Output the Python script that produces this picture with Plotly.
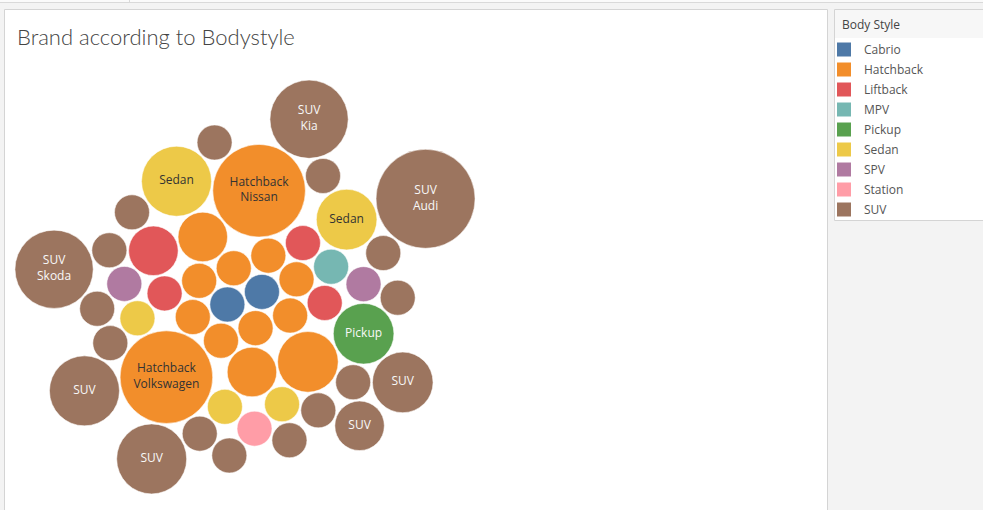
import math
import plotly.graph_objects as go

# ---------------- data ----------------
style_order = ["Cabrio", "Hatchback", "Liftback", "MPV", "Pickup",
               "Sedan", "SPV", "Station", "SUV"]
style_colors = ["#4e79a7", "#f28e2b", "#e15759", "#76b7b2", "#59a14f",
                "#edc948", "#b07aa1", "#ff9da7", "#9c755f"]

cabrio_brands = ["Smart", "Tesla"]
cabrio_counts = [1, 1]
hatchback_brands = ["BMW", "CUPRA", "Fiat", "Honda", "Hyundai", "Mini", "Nissan",
                    "Opel", "Peugeot", "Renault", "SEAT", "Smart", "Volkswagen"]
hatchback_counts = [2, 1, 1, 2, 1, 1, 7, 1, 1, 3, 1, 1, 7]
liftback_brands = ["Hyundai", "Lightyear", "Polestar", "Tesla"]
liftback_counts = [1, 1, 2, 1]
mpv_brands = ["Nissan"]
mpv_counts = [1]
pickup_brands = ["Tesla"]
pickup_counts = [3]
sedan_brands = ["BMW", "Lucid", "Mercedes", "Porsche", "Tesla"]
sedan_counts = [1, 1, 1, 3, 4]
spv_brands = ["Mercedes", "Opel"]
spv_counts = [1, 1]
station_brands = ["MG"]
station_counts = [1]
suv_brands = ["Aiways", "Audi", "BMW", "Byton", "DS", "Fisker", "Ford", "Hyundai",
              "JAC", "Jaguar", "Kia", "Lexus", "Mazda", "Mercedes", "MG", "Nissan",
              "Skoda", "Tesla", "Volkswagen", "Volvo"]
suv_counts = [1, 8, 1, 1, 1, 1, 4, 2, 1, 1, 5, 1, 1, 1, 1, 1, 5, 4, 3, 1]

brands_by_style = [cabrio_brands, hatchback_brands, liftback_brands, mpv_brands,
                   pickup_brands, sedan_brands, spv_brands, station_brands, suv_brands]
counts_by_style = [cabrio_counts, hatchback_counts, liftback_counts, mpv_counts,
                   pickup_counts, sedan_counts, spv_counts, station_counts, suv_counts]

# ---------------- packed-bubble layout (computed) ----------------
W, H = 983, 510
UNIT_R = 17.5      # px radius for a count of 1 (bubble area ~ count)
GAP = 1.8
ROTATE_DEG = -20   # orientation of the packed cluster
CX, CY = 245, 287  # centre of the cluster inside the chart panel

styles, brands, counts = [], [], []
for s, bl, cl in zip(style_order, brands_by_style, counts_by_style):
    # marks ordered by body style, then by size within a style
    for b, c in sorted(zip(bl, cl), key=lambda t: t[1]):
        styles.append(s)
        brands.append(b)
        counts.append(c)
radii = [UNIT_R * math.sqrt(c) for c in counts]


def pack(radii, gap):
    """Greedy packing: each circle goes to the free tangent spot closest to the centre."""
    pos = [(0.0, 0.0), (radii[0] + radii[1] + gap, 0.0)]
    ox, oy = pos[1][0] / 2, 0.0
    for i in range(2, len(radii)):
        r = radii[i]
        best = None
        for a in range(i):
            xa, ya = pos[a]
            ra = radii[a] + r + gap
            for b in range(a + 1, i):
                xb, yb = pos[b]
                rb = radii[b] + r + gap
                dx, dy = xb - xa, yb - ya
                d = math.hypot(dx, dy)
                if d == 0 or d > ra + rb or d < abs(ra - rb):
                    continue
                l = (ra * ra - rb * rb + d * d) / (2 * d)
                h = math.sqrt(max(ra * ra - l * l, 0.0))
                mx, my = xa + l * dx / d, ya + l * dy / d
                for sgn in (1, -1):
                    cx, cy = mx - sgn * h * dy / d, my + sgn * h * dx / d
                    dist = math.hypot(cx - ox, cy - oy)
                    if best is not None and dist >= best[0]:
                        continue
                    ok = True
                    for k in range(i):
                        if math.hypot(cx - pos[k][0], cy - pos[k][1]) < radii[k] + r + gap - 1e-6:
                            ok = False
                            break
                    if ok:
                        best = (dist, cx, cy)
        pos.append((best[1], best[2]))
    return pos


pos = pack(radii, GAP)
ca, sa = math.cos(math.radians(ROTATE_DEG)), math.sin(math.radians(ROTATE_DEG))
pos = [(x * ca - y * sa, x * sa + y * ca) for x, y in pos]
xmin = min(p[0] - r for p, r in zip(pos, radii))
xmax = max(p[0] + r for p, r in zip(pos, radii))
ymin = min(p[1] - r for p, r in zip(pos, radii))
ymax = max(p[1] + r for p, r in zip(pos, radii))
xs = [p[0] - (xmin + xmax) / 2 + CX for p in pos]
ys = [p[1] - (ymin + ymax) / 2 + CY for p in pos]


def lum(hexc):
    r, g, b = int(hexc[1:3], 16), int(hexc[3:5], 16), int(hexc[5:7], 16)
    return (0.2126 * r + 0.7152 * g + 0.0722 * b) / 255


def label(style, brand, count, r):
    lines = []
    if count >= 2 and len(style) * 6.6 <= 1.75 * r:
        lines.append(style)
        if count >= 5 and len(brand) * 6.6 <= 1.75 * r:
            lines.append(brand)
    return "<br>".join(lines)


fig = go.Figure()

for s, col in zip(style_order, style_colors):
    idx = [i for i in range(len(styles)) if styles[i] == s]
    tcol = "#f8f8f8" if lum(col) < 0.58 else "#333333"
    fig.add_trace(go.Scatter(
        x=[xs[i] for i in idx], y=[ys[i] for i in idx],
        mode="markers+text",
        marker=dict(size=[2 * radii[i] for i in idx], color=col, opacity=1,
                    line=dict(width=1, color="rgba(255,255,255,0.55)")),
        text=[label(s, brands[i], counts[i], radii[i]) for i in idx],
        textposition="middle center",
        textfont=dict(family="Open Sans", size=12, color=tcol),
        customdata=[[brands[i], counts[i]] for i in idx],
        hovertemplate="Body Style: " + s + "<br>Brand: %{customdata[0]}<br>Count: %{customdata[1]}<extra></extra>",
        showlegend=False, name=s,
    ))

# legend entries (square swatches)
for s, col in zip(style_order, style_colors):
    fig.add_trace(go.Scatter(
        x=[None], y=[None], mode="markers", name=s, legendgroup=s,
        marker=dict(symbol="square", size=14, color=col),
        hoverinfo="skip",
    ))

shapes = [
    # top strip
    dict(type="rect", x0=0, x1=W, y0=0, y1=2, fillcolor="#fafafa", line=dict(width=0)),
    dict(type="line", x0=0, x1=W, y0=2.5, y1=2.5, line=dict(color="#d9d9d9", width=1)),
    dict(type="line", x0=129.5, x1=129.5, y0=0, y1=2.5, line=dict(color="#d9d9d9", width=1)),
    # chart panel
    dict(type="rect", x0=4.5, x1=827.5, y0=9.5, y1=520, fillcolor="#ffffff",
         line=dict(color="#d4d4d4", width=1)),
    # legend panel
    dict(type="rect", x0=834.5, x1=990, y0=9.5, y1=220.5, fillcolor="#ffffff",
         line=dict(color="#d4d4d4", width=1)),
    dict(type="rect", x0=835, x1=990, y0=10, y1=38, fillcolor="#f7f7f7", line=dict(width=0)),
]
for sh in shapes:
    sh.update(xref="x", yref="y", layer="below")

fig.update_layout(
    width=W, height=H,
    margin=dict(l=0, r=0, t=0, b=0),
    paper_bgcolor="#f3f3f3", plot_bgcolor="rgba(0,0,0,0)",
    xaxis=dict(range=[0, W], visible=False, fixedrange=True),
    yaxis=dict(range=[H, 0], visible=False, fixedrange=True),
    shapes=shapes,
    showlegend=True,
    legend=dict(
        x=824 / W, y=1 - 35 / H, xanchor="left", yanchor="top",
        bgcolor="rgba(0,0,0,0)", borderwidth=0,
        font=dict(family="Open Sans", size=12, color="#555555"),
        itemsizing="trace", tracegroupgap=1,
    ),
    annotations=[
        dict(text="Brand according to Bodystyle", x=15, y=36, xref="x", yref="y",
             xanchor="left", yanchor="middle", showarrow=False,
             font=dict(family="Lato", size=22, color="#444444", weight=300)),
        dict(text="Body Style", x=840, y=24, xref="x", yref="y",
             xanchor="left", yanchor="middle", showarrow=False,
             font=dict(family="Open Sans", size=12, color="#444444")),
    ],
    hovermode="closest",
)

fig.write_html("out.html")
